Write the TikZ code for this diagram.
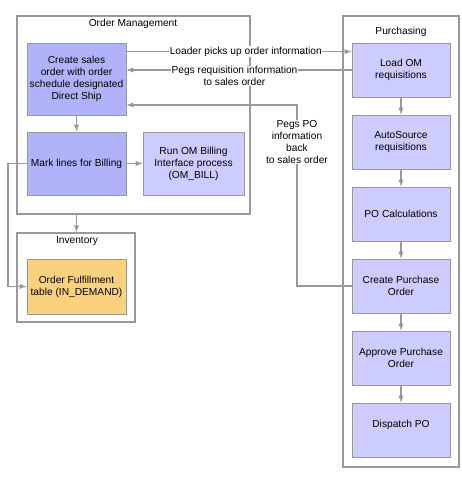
\documentclass[tikz,border=0pt]{standalone}
\usepackage{fontspec}
\setmainfont{Liberation Sans}
\usetikzlibrary{calc}

\definecolor{omblue}{RGB}{176,178,250}
\definecolor{pale}{RGB}{204,204,255}
\definecolor{invorange}{RGB}{251,209,128}
\definecolor{linegray}{RGB}{153,153,153}

\tikzset{
  group/.style={draw=linegray, line width=1.4pt, fill=white},
  task/.style={draw=linegray, line width=0.8pt, align=center, inner sep=0pt},
  flow/.style={draw=linegray, line width=1.4pt, ->, >=latex},
  lbl/.style={fill=white, inner sep=0.5pt, align=center},
}

\begin{document}
\begin{tikzpicture}[x=1pt, y=-1pt, font=\fontsize{10.2}{12}\selectfont]
            \useasboundingbox (0,0) rectangle (461,485);

            % containers
            \node[group, minimum width=233, minimum height=198] (om) at (133.5,115) {};
            \node (omtitle) at (133,24) {Order Management};
            \node[group, minimum width=118, minimum height=89] (inv) at (76,277.5) {};
            \node (invtitle) at (77,241) {Inventory};
            \node[group, minimum width=116, minimum height=451] (pur) at (401,241.5) {};
            \node (purtitle) at (401,32) {Purchasing};

            % order management
            \node[task, fill=omblue, minimum width=99, minimum height=72] (cso) at (76.5,79)
                {Create sales\\order with order\\schedule designated\\Direct Ship};
            \node[task, fill=omblue, minimum width=99, minimum height=63] (mark) at (76.5,163.5)
                {Mark lines for Billing};
            \node[task, fill=pale, minimum width=101, minimum height=63] (run) at (193.5,163.5)
                {Run OM Billing\\Interface process\\(OM\_BILL)};

            % inventory
            \node[task, fill=invorange, minimum width=99, minimum height=55] (ofb) at (76.5,286.5)
                {Order Fulfillment\\table (IN\_DEMAND)};

            % purchasing
            \node[task, fill=pale, minimum width=98, minimum height=54] (load) at (401,70) {Load OM\\requisitions};
            \node[task, fill=pale, minimum width=98, minimum height=54] (auto) at (401,142) {AutoSource\\requisitions};
            \node[task, fill=pale, minimum width=98, minimum height=54] (calc) at (401,214) {PO Calculations};
            \node[task, fill=pale, minimum width=98, minimum height=54] (cpo) at (401,286) {Create Purchase\\Order};
            \node[task, fill=pale, minimum width=98, minimum height=54] (appr) at (401,358) {Approve Purchase\\Order};
            \node[task, fill=pale, minimum width=98, minimum height=54] (disp) at (401,430) {Dispatch PO\\\mbox{}};

            \foreach \a/\b in {load/auto, auto/calc, calc/cpo, cpo/appr, appr/disp}
                \draw[flow] (\a) -- (\b);

            % between groups
            \draw[flow] ([yshift=-9pt]cso.north east) -- ([yshift=-9pt]load.north west)
                node[lbl, pos=0.53] (loadlbl) {Loader picks up order information};
            \draw[flow] (load.west) -- (load.west -| cso.east)
                node[lbl, pos=0.52, yshift=-6pt] (reqlbl) {Pegs requisition information\\to sales order};

            \coordinate (pegs) at (297,105);
            \draw[flow] (cpo.west) -| (pegs) -- (pegs -| cso.east);
            \node[lbl] (polbl) at (297,142) {Pegs PO\\information\\back\\to sales order};

            \draw[flow] (cso) -- (mark);
            \draw[flow] (mark) -- (run);

            \coordinate (rail) at (8,0);
            \draw[flow] (mark.west) -- (mark.west -| rail) |- (ofb.west);
            \draw[flow] (cso.south |- om.south) -- (cso.south |- inv.north);
        \end{tikzpicture}
\end{document}
